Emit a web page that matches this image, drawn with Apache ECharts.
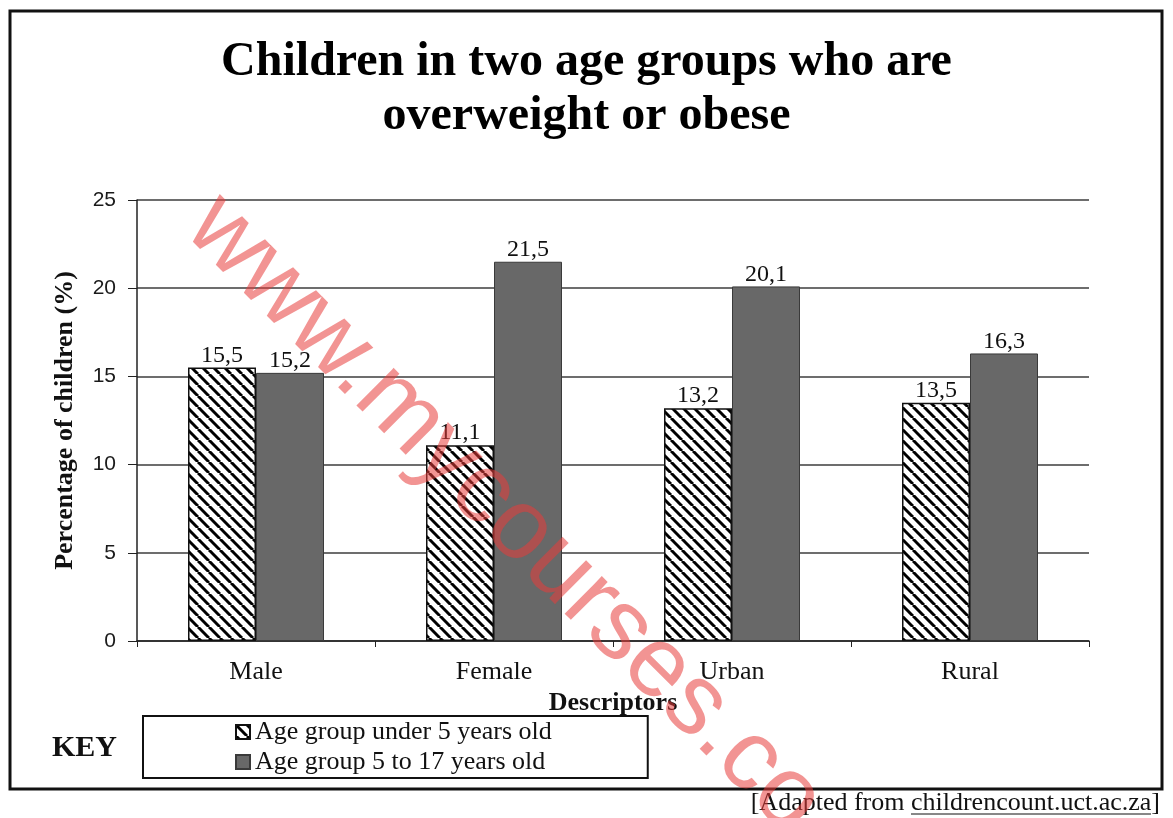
<!DOCTYPE html>
<html>
<head>
<meta charset="utf-8">
<title>Children in two age groups who are overweight or obese</title>
<script src="https://cdn.jsdelivr.net/npm/echarts@6/dist/echarts.min.js"></script>
<style>
  html, body { margin: 0; padding: 0; background: #fff; }
  #chart { width: 1173px; height: 818px; }
</style>
</head>
<body>
<div id="chart"></div>
<script>
// data
var categories = ['Male', 'Female', 'Urban', 'Rural'];
var seriesNames = ['Age group under 5 years old', 'Age group 5 to 17 years old'];
var under5 = [15.5, 11.1, 13.2, 13.5];
var age5to17 = [15.2, 21.5, 20.1, 16.3];
var yMin = 0, yMax = 25, yStep = 5;

var serif = '"Liberation Serif", "Times New Roman", serif';
var sans = '"Liberation Sans", Arial, sans-serif';

// diagonal hatch for the under-5 bars
function makeHatch() {
  var size = 11;
  var c = document.createElement('canvas');
  c.width = size;
  c.height = size;
  var ctx = c.getContext('2d');
  ctx.fillStyle = '#fff';
  ctx.fillRect(0, 0, size, size);
  ctx.strokeStyle = '#000';
  ctx.lineWidth = 3;
  [-size, 0, size].forEach(function (o) {
    ctx.beginPath();
    ctx.moveTo(o, 0);
    ctx.lineTo(o + size, size);
    ctx.stroke();
  });
  return c;
}

function commaLabel(p) {
  return p.value.toFixed(1).replace('.', ',');
}

var chart = echarts.init(document.getElementById('chart'), null, { renderer: 'canvas' });

var option = {
  backgroundColor: '#fff',
  animation: false,
  title: {
    text: 'Children in two age groups who are\noverweight or obese',
    left: 'center',
    top: 31,
    textStyle: {
      fontFamily: serif,
      fontWeight: 'bold',
      fontSize: 48,
      lineHeight: 54,
      color: '#000'
    }
  },
  grid: { left: 137, right: 84, top: 200, bottom: 177 },
  legend: {
    left: 143,
    top: 716,
    orient: 'vertical',
    itemGap: 4,
    itemWidth: 14,
    itemHeight: 14,
    icon: 'rect',
    padding: [3, 96, 3, 92],
    borderColor: '#111',
    borderWidth: 2,
    textStyle: { fontFamily: serif, fontSize: 26, color: '#111' },
    data: seriesNames
  },
  xAxis: {
    type: 'category',
    data: categories,
    name: 'Descriptors',
    nameLocation: 'middle',
    nameGap: 46,
    nameTextStyle: { fontFamily: serif, fontWeight: 'bold', fontSize: 26, color: '#111' },
    axisLine: { lineStyle: { color: '#222', width: 1.5 } },
    axisTick: { show: true, length: 6, lineStyle: { color: '#222' } },
    axisLabel: { fontFamily: serif, fontSize: 26, color: '#111', margin: 18 }
  },
  yAxis: {
    type: 'value',
    min: yMin,
    max: yMax,
    interval: yStep,
    name: 'Percentage of children (%)',
    nameLocation: 'middle',
    nameGap: 59,
    nameTextStyle: { fontFamily: serif, fontWeight: 'bold', fontSize: 26, color: '#111' },
    axisLine: { show: true, lineStyle: { color: '#222', width: 1.5 } },
    axisTick: { show: true, length: 9, lineStyle: { color: '#222' } },
    axisLabel: { fontFamily: sans, fontSize: 21, color: '#1a1a1a', margin: 21 },
    splitLine: { lineStyle: { color: '#3c3c3c', width: 1.5 } }
  },
  series: [
    {
      name: seriesNames[0],
      type: 'bar',
      data: under5,
      barWidth: 68,
      barGap: '0%',
      itemStyle: {
        color: { image: makeHatch(), repeat: 'repeat' },
        borderColor: '#111',
        borderWidth: 1.5
      },
      label: {
        show: true,
        position: 'top',
        distance: 0,
        formatter: commaLabel,
        fontFamily: serif,
        fontSize: 24,
        color: '#111'
      }
    },
    {
      name: seriesNames[1],
      type: 'bar',
      data: age5to17,
      barWidth: 68,
      barGap: '0%',
      itemStyle: { color: '#686868', borderColor: '#3a3a3a', borderWidth: 1 },
      label: {
        show: true,
        position: 'top',
        distance: 0,
        formatter: commaLabel,
        fontFamily: serif,
        fontSize: 24,
        color: '#111'
      }
    }
  ],
  graphic: [
    {
      type: 'rect',
      z: -1,
      shape: { x: 10, y: 11, width: 1152, height: 778 },
      style: { fill: 'none', stroke: '#111', lineWidth: 3 }
    },
    {
      type: 'text',
      left: 52,
      top: 733,
      style: { text: 'KEY', fontFamily: serif, fontWeight: 'bold', fontSize: 30, fill: '#111' }
    },
    {
      type: 'text',
      x: 1160,
      y: 803,
      style: {
        text: '[Adapted from childrencount.uct.ac.za]',
        fontFamily: serif,
        fontSize: 26,
        fill: '#111',
        align: 'right',
        verticalAlign: 'middle'
      }
    },
    {
      type: 'line',
      shape: { x1: 911, y1: 814, x2: 1151, y2: 814 },
      style: { stroke: '#111', lineWidth: 1 }
    },
    {
      type: 'text',
      z: 100,
      x: 202,
      y: 212,
      rotation: -45 * Math.PI / 180,
      silent: true,
      style: {
        text: 'www.mycourses.co.za',
        fontFamily: sans,
        fontSize: 100,
        fill: 'rgba(232,60,58,0.55)',
        align: 'left',
        verticalAlign: 'middle'
      }
    }
  ]
};

chart.setOption(option);
</script>
</body>
</html>
